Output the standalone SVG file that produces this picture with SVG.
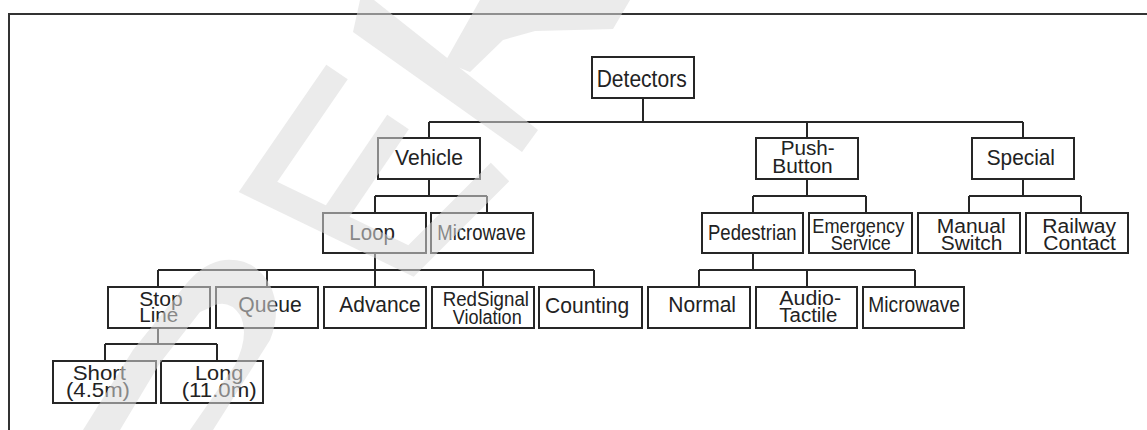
<svg xmlns="http://www.w3.org/2000/svg" width="1147" height="430" viewBox="0 0 1147 430">
<style>
.box{fill:#fff;stroke:#262626;stroke-width:2}
.ln{fill:none;stroke:#262626;stroke-width:2}
.t{font-family:"Liberation Sans",Arial,sans-serif;fill:#222}
.s{font-size:22px}
.d{font-size:20px}
.m{font-size:21px}
</style>
<rect x="0" y="0" width="1147" height="430" fill="#fff"/>
<rect x="9" y="14" width="1150" height="430" fill="none" stroke="#333" stroke-width="2"/>
<g id="connectors" class="ln">
<path d="M643,98V122M429,122H1023M429,122V138M807,122V138M1023,122V138"/>
<path d="M429,179V196M375,196H487M375,196V213M487,196V213"/>
<path d="M807,179V196M753,196H866M753,196V213M866,196V213"/>
<path d="M1023,179V196M969,196H1081M969,196V213M1081,196V213"/>
<path d="M375,253V287M158,270H594M158,270V287M267,270V287M483,270V287M594,270V287"/>
<path d="M753,253V270M699,270H915M699,270V287M807,270V287M915,270V287"/>
<path d="M158,328V344M105,344H217M105,344V361M217,344V361"/>
</g>
<g id="n-detectors"><rect class="box" x="592" y="57" width="102" height="41"/><text class="t" x="596.7" y="87" font-size="23" textLength="90" lengthAdjust="spacingAndGlyphs">Detectors</text></g>
<g id="n-vehicle"><rect class="box" x="378" y="138" width="102" height="41"/><text class="t s" x="395" y="165" textLength="68" lengthAdjust="spacingAndGlyphs">Vehicle</text></g>
<g id="n-pushbutton"><rect class="box" x="756" y="138" width="102" height="41"/><text class="t d" x="780.7" y="155" textLength="54" lengthAdjust="spacingAndGlyphs">Push-</text><text class="t d" x="772.3" y="172.7" textLength="60.4" lengthAdjust="spacingAndGlyphs">Button</text></g>
<g id="n-special"><rect class="box" x="972" y="138" width="102" height="41"/><text class="t s" x="986.7" y="165" textLength="68.3" lengthAdjust="spacingAndGlyphs">Special</text></g>
<g id="n-loop"><rect class="box" x="323" y="213" width="103" height="40"/><text class="t s" x="349.3" y="240" textLength="45.7" lengthAdjust="spacingAndGlyphs">Loop</text></g>
<g id="n-microwave1"><rect class="box" x="431" y="213" width="102" height="40"/><text class="t s" x="437.3" y="240" textLength="88.4" lengthAdjust="spacingAndGlyphs">Microwave</text></g>
<g id="n-pedestrian"><rect class="box" x="702" y="213" width="101" height="40"/><text class="t s" x="708" y="240" textLength="88.7" lengthAdjust="spacingAndGlyphs">Pedestrian</text></g>
<g id="n-emergency"><rect class="box" x="809" y="213" width="103" height="40"/><text class="t d" x="812.3" y="233.3" textLength="92" lengthAdjust="spacingAndGlyphs">Emergency</text><text class="t d" x="830.7" y="249.5" textLength="60" lengthAdjust="spacingAndGlyphs">Service</text></g>
<g id="n-manual"><rect class="box" x="918" y="213" width="102" height="40"/><text class="t d" x="936.7" y="233.3" textLength="69" lengthAdjust="spacingAndGlyphs">Manual</text><text class="t d" x="940.7" y="250" textLength="61.6" lengthAdjust="spacingAndGlyphs">Switch</text></g>
<g id="n-railway"><rect class="box" x="1026" y="213" width="102" height="40"/><text class="t d" x="1042.3" y="232.7" textLength="73.7" lengthAdjust="spacingAndGlyphs">Railway</text><text class="t d" x="1043.3" y="250" textLength="72.7" lengthAdjust="spacingAndGlyphs">Contact</text></g>
<g id="n-stopline"><rect class="box" x="108" y="287" width="102" height="41"/><text class="t d" x="139.3" y="305.5" textLength="43.4" lengthAdjust="spacingAndGlyphs">Stop</text><text class="t d" x="139.3" y="322.3" textLength="39" lengthAdjust="spacingAndGlyphs">Line</text></g>
<g id="n-queue"><rect class="box" x="216" y="287" width="102" height="41"/><text class="t s" x="238.3" y="312.3" textLength="63.4" lengthAdjust="spacingAndGlyphs">Queue</text></g>
<g id="n-advance"><rect class="box" x="324" y="287" width="102" height="41"/><text class="t s" x="339.3" y="312.3" textLength="81.4" lengthAdjust="spacingAndGlyphs">Advance</text></g>
<g id="n-redsignal"><rect class="box" x="432" y="287" width="102" height="41"/><text class="t d" x="442.7" y="306" textLength="86.3" lengthAdjust="spacingAndGlyphs">RedSignal</text><text class="t d" x="452.7" y="324" textLength="69" lengthAdjust="spacingAndGlyphs">Violation</text></g>
<g id="n-counting"><rect class="box" x="539" y="287" width="103" height="41"/><text class="t s" x="545" y="313" textLength="84.3" lengthAdjust="spacingAndGlyphs">Counting</text></g>
<g id="n-normal"><rect class="box" x="648" y="287" width="102" height="41"/><text class="t s" x="668.3" y="312.3" textLength="67.7" lengthAdjust="spacingAndGlyphs">Normal</text></g>
<g id="n-audiotactile"><rect class="box" x="756" y="287" width="101" height="41"/><text class="t d" x="779.3" y="305" textLength="61.7" lengthAdjust="spacingAndGlyphs">Audio-</text><text class="t d" x="779.3" y="322" textLength="58" lengthAdjust="spacingAndGlyphs">Tactile</text></g>
<g id="n-microwave2"><rect class="box" x="863" y="287" width="101" height="41"/><text class="t s" x="868.3" y="312.3" textLength="91.7" lengthAdjust="spacingAndGlyphs">Microwave</text></g>
<g id="n-short"><rect class="box" x="53" y="361" width="103" height="42"/><text class="t m" x="72.7" y="380" textLength="53.3" lengthAdjust="spacingAndGlyphs">Short</text><text class="t m" x="66" y="396.5" textLength="64" lengthAdjust="spacingAndGlyphs">(4.5m)</text></g>
<g id="n-long"><rect class="box" x="161" y="361" width="102" height="42"/><text class="t m" x="195" y="379.5" textLength="48.3" lengthAdjust="spacingAndGlyphs">Long</text><text class="t m" x="181.7" y="396.5" textLength="75" lengthAdjust="spacingAndGlyphs">(11.0m)</text></g>
<g id="watermark" opacity="0.55" fill="#dbdbdb" stroke="none">
<polygon points="360,0 374,0 538,130 522,152 353,32"/>
<polygon points="480,0 630,0 613,29 535,31 503,40 470,72 445,62"/>
<polyline points="337,72 258,187 411,261 500,172" fill="none" stroke="#dbdbdb" stroke-width="26" stroke-linejoin="miter"/>
<line x1="398" y1="122" x2="335" y2="215" stroke="#dbdbdb" stroke-width="26"/>
<path d="M83,430 L133,350 L187,283 Q205,262 225,260 Q255,258 270,285 Q282,310 270,340 L213,430 L190,430 L235,365 Q250,335 240,315 Q230,300 215,305 Q205,310 200,312 L160,363 L120,430 Z"/>
</g>
</svg>
